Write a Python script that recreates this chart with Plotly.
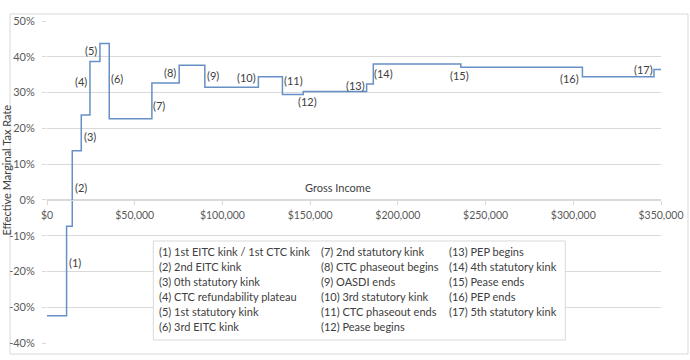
import plotly.graph_objects as go

# ---- data ----
incomes = [0, 11160, 14400, 19530, 24490, 30180, 35480, 59790, 75340, 89980,
           120500, 134200, 146100, 182200, 186000, 235900, 305200, 346000, 350000]
rates = [-32.35, -7.35, 13.71, 23.71, 38.71, 43.71, 22.65, 32.65, 37.65, 31.45,
         34.45, 29.45, 30.29, 32.4, 38.0, 37.05, 34.45, 36.45, 36.45]

label_text = ["(1)", "(2)", "(3)", "(4)", "(5)", "(6)", "(7)", "(8)", "(9)", "(10)",
              "(11)", "(12)", "(13)", "(14)", "(15)", "(16)", "(17)"]
label_x = [15720, 19360, 24660, 19130, 25060, 39860, 64120, 70050, 94880, 113670,
           140430, 148630, 175570, 192080, 234970, 297610, 339750]
label_y = [-17.6, 3.6, 17.8, 33.0, 41.8, 33.8, 26.4, 35.5, 34.7, 34.1,
           33.3, 27.4, 31.9, 35.3, 34.7, 33.9, 36.5]

legend_col1 = ["(1) 1st EITC kink / 1st CTC kink", "(2) 2nd EITC kink", "(3) 0th statutory kink",
               "(4) CTC refundability plateau", "(5) 1st statutory kink", "(6) 3rd EITC kink"]
legend_col2 = ["(7) 2nd statutory kink", "(8) CTC phaseout begins", "(9) OASDI ends",
               "(10) 3rd statutory kink", "(11) CTC phaseout ends", "(12) Pease begins"]
legend_col3 = ["(13) PEP begins", "(14) 4th statutory kink", "(15) Pease ends",
               "(16) PEP ends", "(17) 5th statutory kink"]

x_tickvals = [0, 50000, 100000, 150000, 200000, 250000, 300000, 350000]
x_ticktext = ["$0", "$50,000", "$100,000", "$150,000", "$200,000", "$250,000", "$300,000", "$350,000"]
y_tickvals = [-40, -30, -20, -10, 0, 10, 20, 30, 40, 50]
y_ticktext = ["-40%", "-30%", "-20%", "-10%", "0%", "10%", "20%", "30%", "40%", "50%"]

# ---- layout geometry ----
W, H = 690, 360
ML, MR, MT, MB = 47, 29, 21, 17
PW, PH = W - ML - MR, H - MT - MB


def px(x):
    return (x - ML) / PW


def py(y):
    return (H - MB - y) / PH


FONT = "Lato"
TXT = "#404040"
TICK = "#595959"
GRID = "#d9d9d9"

fig = go.Figure()
fig.add_trace(go.Scatter(x=incomes, y=rates, mode="lines", line_shape="hv",
                         line=dict(color="#6690c6", width=1.5), hoverinfo="skip",
                         showlegend=False))

ann = []
for t, x, y in zip(label_text, label_x, label_y):
    ann.append(dict(x=x, y=y, xref="x", yref="y", text=t, showarrow=False,
                    font=dict(family=FONT, size=11, color=TXT)))

col_x = [157, 319, 447]
row_y = [251.7, 266.5, 281.7, 296.7, 311.7, 326.7]
for cx, col in zip(col_x, [legend_col1, legend_col2, legend_col3]):
    for i, t in enumerate(col):
        ann.append(dict(x=px(cx), y=py(row_y[i]), xref="paper", yref="paper", text=t,
                        showarrow=False, xanchor="left", yanchor="middle",
                        font=dict(family=FONT, size=11, color=TXT)))

ann.append(dict(x=px(338), y=py(187.3), xref="paper", yref="paper", text="Gross Income",
                showarrow=False, font=dict(family=FONT, size=11, color=TXT)))
ann.append(dict(x=px(0), y=py(170), xref="paper", yref="paper", text="Effective Marginal Tax Rate",
                showarrow=False, textangle=-90, xshift=-3,
                font=dict(family=FONT, size=11, color=TXT)))

shapes = [
    dict(type="rect", xref="paper", yref="paper", x0=px(10), x1=px(688), y0=py(354), y1=py(14),
         line=dict(color=GRID, width=1), fillcolor="rgba(0,0,0,0)", layer="below"),
    dict(type="rect", xref="paper", yref="paper", x0=px(153.3), x1=px(565.3), y0=py(340), y1=py(241),
         line=dict(color=GRID, width=1), fillcolor="white", layer="above"),
]

fig.update_layout(
    width=W, height=H, margin=dict(l=ML, r=MR, t=MT, b=MB, autoexpand=False),
    paper_bgcolor="white", plot_bgcolor="white",
    annotations=ann, shapes=shapes, showlegend=False,
    xaxis=dict(range=[0, 350000], tickvals=x_tickvals, ticktext=x_ticktext,
               showgrid=False, zeroline=False, showline=True, linecolor=GRID,
               ticks="outside", ticklen=4, tickcolor=GRID, ticklabelstandoff=2,
               anchor="free", position=40 / 90, automargin=False,
               tickfont=dict(family=FONT, size=10.5, color=TICK)),
    yaxis=dict(range=[-40, 50], tickvals=y_tickvals, ticktext=y_ticktext,
               showgrid=True, gridcolor=GRID, zeroline=False, showline=False,
               ticks="outside", ticklen=4, tickcolor=GRID, ticklabelstandoff=5,
               automargin=False,
               tickfont=dict(family=FONT, size=11, color=TICK)),
)

fig.write_html("out.html")
